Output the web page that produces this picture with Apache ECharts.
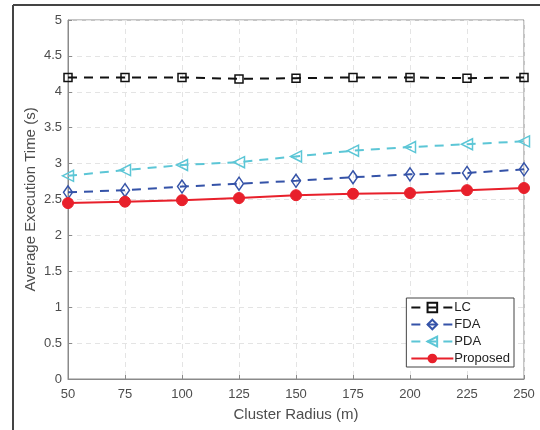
<!DOCTYPE html>
<html>
<head>
<meta charset="utf-8">
<script src="https://cdn.jsdelivr.net/npm/echarts@6/dist/echarts.min.js"></script>
<style>
  html, body { margin: 0; padding: 0; background: #fff; }
  #chart { width: 540px; height: 430px; }
</style>
</head>
<body>
<div id="chart"></div>
<script>
var radius = [50, 75, 100, 125, 150, 175, 200, 225, 250];
var lcTime = [4.20, 4.20, 4.20, 4.18, 4.19, 4.20, 4.20, 4.19, 4.20];
var fdaTime = [2.60, 2.63, 2.68, 2.72, 2.76, 2.81, 2.85, 2.87, 2.92];
var pdaTime = [2.83, 2.91, 2.98, 3.02, 3.10, 3.18, 3.23, 3.27, 3.31];
var proposedTime = [2.45, 2.47, 2.49, 2.52, 2.56, 2.58, 2.59, 2.63, 2.66];

function pairs(xs, ys) {
    var out = [];
    for (var i = 0; i < xs.length; i++) {
        out.push([xs[i], ys[i]]);
    }
    return out;
}

var chart = echarts.init(document.getElementById('chart'));
var labelColor = '#4d4d4d';
var font = 'Liberation Sans, Arial, sans-serif';

var option = {
    backgroundColor: '#fff',
    animation: false,
    graphic: [
        { type: 'line', shape: { x1: 13, y1: 5, x2: 540, y2: 5 }, style: { stroke: '#444', lineWidth: 2 } },
        { type: 'line', shape: { x1: 13, y1: 5, x2: 13, y2: 430 }, style: { stroke: '#444', lineWidth: 2 } }
    ],
    grid: {
        left: 68, right: 16, top: 20, bottom: 51,
        show: true, borderColor: '#8a8a8a', borderWidth: 1
    },
    legend: {
        right: 26, top: 298,
        orient: 'vertical',
        backgroundColor: '#fff',
        borderColor: '#444', borderWidth: 1,
        padding: [3, 4, 2, 4],
        itemGap: 4,
        itemWidth: 42, itemHeight: 12,
        textStyle: { fontFamily: font, fontSize: 13, color: '#222', padding: [0, 0, 0, -4] },
        data: ['LC', 'FDA', 'PDA', 'Proposed']
    },
    xAxis: {
        type: 'value',
        min: 50, max: 250, interval: 25,
        name: 'Cluster Radius (m)',
        nameLocation: 'middle', nameGap: 28,
        nameTextStyle: { fontFamily: font, fontSize: 15, color: labelColor },
        axisLine: { lineStyle: { color: '#8a8a8a' } },
        axisTick: { inside: true, length: 4, lineStyle: { color: '#8a8a8a' } },
        axisLabel: { fontFamily: font, fontSize: 13, color: labelColor, margin: 9 },
        splitLine: { lineStyle: { color: '#e4e4e4', type: [5, 4] } }
    },
    yAxis: {
        type: 'value',
        min: 0, max: 5, interval: 0.5,
        name: 'Average Execution Time (s)',
        nameLocation: 'middle', nameGap: 30,
        nameMoveOverlap: false,
        nameTextStyle: { fontFamily: font, fontSize: 15, color: labelColor },
        axisLine: { lineStyle: { color: '#8a8a8a' } },
        axisTick: { inside: true, length: 4, lineStyle: { color: '#8a8a8a' } },
        axisLabel: { fontFamily: font, fontSize: 13, color: labelColor, margin: 6 },
        splitLine: { lineStyle: { color: '#e4e4e4', type: [5, 4] } }
    },
    series: [
        {
            name: 'LC', type: 'line', data: pairs(radius, lcTime),
            symbol: 'rect', symbolSize: 8,
            lineStyle: { color: '#111', width: 2, type: [9, 7] },
            itemStyle: { color: 'rgba(255,255,255,0)', borderColor: '#111', borderWidth: 1.5 }
        },
        {
            name: 'FDA', type: 'line', data: pairs(radius, fdaTime),
            symbol: 'diamond', symbolSize: [9, 13],
            lineStyle: { color: '#3553a8', width: 2, type: [9, 7] },
            itemStyle: { color: 'rgba(255,255,255,0)', borderColor: '#3553a8', borderWidth: 1.5 }
        },
        {
            name: 'PDA', type: 'line', data: pairs(radius, pdaTime),
            symbol: 'triangle', symbolRotate: 90, symbolSize: 11,
            lineStyle: { color: '#5cc6d6', width: 2, type: [9, 7] },
            itemStyle: { color: 'rgba(255,255,255,0)', borderColor: '#5cc6d6', borderWidth: 1.5 }
        },
        {
            name: 'Proposed', type: 'line', data: pairs(radius, proposedTime),
            symbol: 'circle', symbolSize: 11,
            lineStyle: { color: '#e8202b', width: 2 },
            itemStyle: { color: '#e8202b', borderColor: '#e8202b' }
        }
    ]
};
chart.setOption(option);
</script>
</body>
</html>
